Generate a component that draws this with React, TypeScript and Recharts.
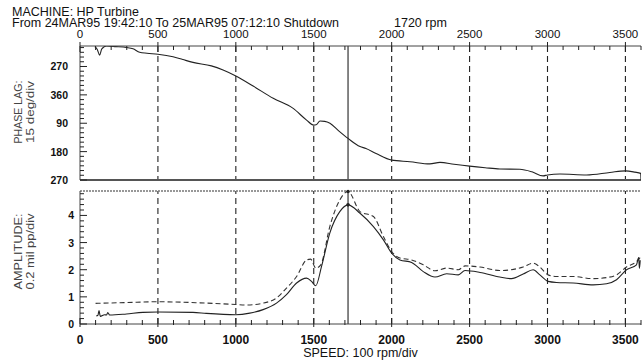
import React from 'react';
import { LineChart, Line, XAxis, YAxis, ReferenceLine, ReferenceDot } from 'recharts';

// speed axis
const RPM_TICKS = Array.from({ length: 37 }, (_, i) => i * 100);
const GRID_RPM = [500, 1000, 1500, 2000, 2500, 3000, 3500];
const MARKER_RPM = 1720;

// phase lag, unwrapped degrees (shown mod 360)
const PHASE_TICKS = Array.from({ length: 29 }, (_, i) => 210 + i * 15);
const PHASE_MAJOR = [270, 360, 450, 540, 630];
const PHASE_RPM = [95, 110, 126, 140, 170, 230, 298, 340, 383, 430, 500, 597, 660, 725, 843, 918, 1000, 1111, 1240, 1368, 1454, 1500, 1515, 1540, 1570, 1604, 1660, 1720, 1797, 1835, 1900, 2000, 2117, 2245, 2310, 2400, 2500, 2600, 2694, 2822, 2900, 2972, 3000, 3080, 3251, 3400, 3500, 3560, 3598, 3600];
const PHASE_LAG = [207, 215, 234, 214, 205, 207, 210, 214, 225, 228, 231, 239, 248, 257, 268, 281, 300, 332, 371, 403, 440, 456, 455, 443, 444, 450, 474, 498, 524, 530, 546, 567, 572, 579, 574, 580, 586, 591, 595, 596, 604, 617, 614, 611, 614, 606, 601, 605, 609, 630];

// amplitude, mil pp
const AMP_TICKS = Array.from({ length: 25 }, (_, i) => Math.round(i * 2) / 10);
const AMP_MAJOR = [0, 1, 2, 3, 4];
const AMP_SOLID_RPM = [105, 115, 122, 130, 158, 170, 178, 190, 298, 404, 500, 725, 811, 1000, 1090, 1175, 1261, 1325, 1390, 1454, 1486, 1513, 1550, 1603, 1667, 1720, 1797, 1883, 1947, 2000, 2053, 2128, 2203, 2278, 2353, 2428, 2471, 2567, 2694, 2769, 2844, 2908, 2951, 3004, 3058, 3165, 3293, 3379, 3443, 3507, 3571, 3585, 3590, 3595];
const AMP_SOLID = [0.30, 0.32, 0.50, 0.28, 0.34, 0.33, 0.42, 0.33, 0.37, 0.43, 0.44, 0.43, 0.39, 0.34, 0.40, 0.53, 0.77, 1.08, 1.51, 1.69, 1.57, 1.41, 2.12, 3.35, 4.14, 4.39, 4.08, 3.59, 3.10, 2.61, 2.36, 2.27, 1.93, 1.73, 1.85, 1.81, 1.97, 1.90, 1.73, 1.67, 1.84, 2.00, 1.81, 1.57, 1.53, 1.51, 1.44, 1.48, 1.63, 2.00, 2.18, 2.45, 2.05, 2.35];
const AMP_DASH_RPM = [100, 300, 500, 770, 1000, 1068, 1175, 1261, 1325, 1390, 1454, 1480, 1513, 1545, 1603, 1667, 1720, 1797, 1883, 1947, 2000, 2053, 2128, 2203, 2278, 2353, 2428, 2471, 2567, 2694, 2844, 2908, 2951, 3004, 3058, 3165, 3293, 3379, 3443, 3507, 3571, 3595];
const AMP_DASH = [0.76, 0.79, 0.82, 0.78, 0.72, 0.70, 0.77, 0.96, 1.32, 1.75, 2.36, 2.39, 2.06, 2.18, 3.59, 4.57, 4.88, 4.14, 3.96, 3.22, 2.67, 2.43, 2.36, 2.18, 1.96, 2.06, 2.00, 2.14, 2.10, 1.97, 2.10, 2.24, 2.10, 1.81, 1.75, 1.75, 1.67, 1.71, 1.81, 2.10, 2.30, 2.45];

const phaseData = PHASE_RPM.map((rpm, i) => ({ rpm, lag: PHASE_LAG[i] }));
const ampSolidData = AMP_SOLID_RPM.map((rpm, i) => ({ rpm, amp: AMP_SOLID[i] }));
const ampDashData = AMP_DASH_RPM.map((rpm, i) => ({ rpm, amp: AMP_DASH[i] }));

const FONT = 'Arial, "Liberation Sans", Helvetica, sans-serif';
const INK = '#222';

const fmtPhase = (v: number) => (v === 360 ? '360' : String(v % 360));

// speed ticks: minor every 100, labelled every 500
const SpeedTick = ({ x, y, payload, top }: any) => {
  const v = payload.value;
  const major = v % 500 === 0 && v <= 3500;
  const len = major ? 6 : 4;
  return (
    <g>
      <line x1={x} x2={x} y1={top ? y - (major ? 4 : 0) : y - len} y2={top ? y + len : y + (major ? 3 : 1)} stroke={INK} />
      {major && (
        <text x={x} y={top ? y - 12 : y + 16} textAnchor="middle" dominantBaseline="central"
          fontSize={top ? 11.5 : 12} fontWeight={top ? 'normal' : 'bold'} fill="#111" fontFamily={FONT}>
          {v}
        </text>
      )}
    </g>
  );
};

const LeftTick = ({ x, y, payload, majors, fmt, gap }: any) => {
  const v = payload.value;
  const major = majors.includes(v);
  return (
    <g>
      <line x1={x} x2={x + (major ? 7 : 4)} y1={y} y2={y} stroke={INK} />
      {major && (
        <text x={x - gap} y={y} textAnchor="end" dominantBaseline="central" fontSize={10.5}
          fontWeight="bold" fill="#111" fontFamily={FONT}>
          {fmt(v)}
        </text>
      )}
    </g>
  );
};

const RightTick = ({ x, y }: any) => <line x1={x - 5} x2={x} y1={y} y2={y} stroke="#444" />;

const AxisTitle = (props: any) => {
  const { viewBox, lines, lens, dy = 0 } = props;
  const cy = viewBox.y + viewBox.height / 2 + dy;
  const cols = [17.5, 29.5];
  return (
    <g fill="#444" fontSize={11} fontFamily={FONT}>
      {lines.map((t: string, i: number) => (
        <text key={i} transform={`translate(${cols[i]}, ${cy}) rotate(-90)`} textAnchor="middle"
          dominantBaseline="central" textLength={lens[i]} lengthAdjust="spacingAndGlyphs">
          {t}
        </text>
      ))}
    </g>
  );
};

const titleStyle: React.CSSProperties = { position: 'absolute', fontSize: 12.5, lineHeight: '10px', whiteSpace: 'pre' };

export default function App() {
  return (
    <div style={{ position: 'absolute', left: 0, top: 0, width: 644, height: 360, background: '#fff', fontFamily: FONT, color: '#111', overflow: 'hidden' }}>
      <div style={{ ...titleStyle, left: 12, top: 6.5 }}>MACHINE: HP Turbine</div>
      <div style={{ ...titleStyle, left: 12, top: 18 }}>From 24MAR95 19:42:10 To 25MAR95 07:12:10 Shutdown</div>
      <div style={{ ...titleStyle, left: 394, top: 18 }}>1720 rpm</div>

      {/* phase panel */}
      <div style={{ position: 'absolute', left: 0, top: 0 }}>
        <LineChart width={644} height={190} margin={{ top: 0, right: 0, left: 0, bottom: 10 }}>
          <XAxis type="number" dataKey="rpm" orientation="top" domain={[0, 3600]} ticks={RPM_TICKS} interval={0}
            height={46} tickSize={0} tickMargin={0} tick={<SpeedTick top />} axisLine={{ stroke: '#444' }} allowDataOverflow />
          <YAxis yAxisId="l" type="number" domain={[205, 630]} reversed ticks={PHASE_TICKS} interval={0} width={80}
            tickSize={0} tickMargin={0} tick={<LeftTick majors={PHASE_MAJOR} fmt={fmtPhase} gap={12} />}
            axisLine={{ stroke: '#444' }} allowDataOverflow
            label={<AxisTitle lines={['PHASE LAG:', '15 deg/div']} lens={[63, 62]} dy={-1} />} />
          <YAxis yAxisId="r" orientation="right" type="number" domain={[205, 630]} reversed ticks={PHASE_MAJOR.slice(0, 4)}
            width={3} tickSize={0} tickMargin={0} tick={<RightTick />} axisLine={false} />
          {GRID_RPM.map((r) => (
            <ReferenceLine key={r} yAxisId="l" x={r} stroke={INK} strokeDasharray="6 4" strokeWidth={1.1} />
          ))}
          <ReferenceLine yAxisId="l" x={MARKER_RPM} stroke={INK} strokeWidth={1.1} />
          <ReferenceLine yAxisId="l" y={630} stroke="#555" strokeWidth={2} />
          <Line yAxisId="l" data={phaseData} dataKey="lag" type="monotone" stroke={INK} strokeWidth={1.1}
            dot={false} isAnimationActive={false} />
        </LineChart>
      </div>

      {/* amplitude panel */}
      <div style={{ position: 'absolute', left: 0, top: 180 }}>
        <LineChart width={644} height={180} margin={{ top: 11, right: 0, left: 0, bottom: 0 }}>
          <XAxis type="number" dataKey="rpm" domain={[0, 3600]} ticks={RPM_TICKS} interval={0} height={36}
            tickSize={0} tickMargin={0} tick={<SpeedTick />} axisLine={{ stroke: '#444' }} allowDataOverflow
            label={{ value: 'SPEED: 100 rpm/div', position: 'insideBottom', offset: 3, fontSize: 12.5, fill: '#111', fontFamily: FONT }} />
          <YAxis yAxisId="l" type="number" domain={[0, 4.9]} ticks={AMP_TICKS} interval={0} width={80}
            tickSize={0} tickMargin={0} tick={<LeftTick majors={AMP_MAJOR} fmt={(v: number) => String(v)} gap={6} />}
            axisLine={{ stroke: '#444' }} allowDataOverflow
            label={<AxisTitle lines={['AMPLITUDE:', '0.2 mil pp/div']} lens={[76, 76]} dy={-6} />} />
          <YAxis yAxisId="r" orientation="right" type="number" domain={[0, 4.9]} ticks={[1, 2, 3, 4]}
            width={3} tickSize={0} tickMargin={0} tick={<RightTick />} axisLine={false} />
          {GRID_RPM.map((r) => (
            <ReferenceLine key={r} yAxisId="l" x={r} stroke={INK} strokeDasharray="6 4" strokeWidth={1.1} />
          ))}
          <ReferenceLine yAxisId="l" x={MARKER_RPM} stroke={INK} strokeWidth={1.1} />
          <ReferenceLine yAxisId="l" y={4.9} stroke="#777" strokeDasharray="2 1" strokeWidth={1.5} />
          <Line yAxisId="l" data={ampDashData} dataKey="amp" type="monotone" stroke="#333" strokeWidth={1.1}
            strokeDasharray="5 3" dot={false} isAnimationActive={false} />
          <Line yAxisId="l" data={ampSolidData} dataKey="amp" type="monotone" stroke={INK} strokeWidth={1.1}
            dot={false} isAnimationActive={false} />
          <ReferenceDot yAxisId="l" x={MARKER_RPM} y={4.88} r={1.8} fill={INK} stroke="none" />
          <ReferenceDot yAxisId="l" x={MARKER_RPM} y={4.39} r={1.8} fill={INK} stroke="none" />
        </LineChart>
      </div>
    </div>
  );
}
